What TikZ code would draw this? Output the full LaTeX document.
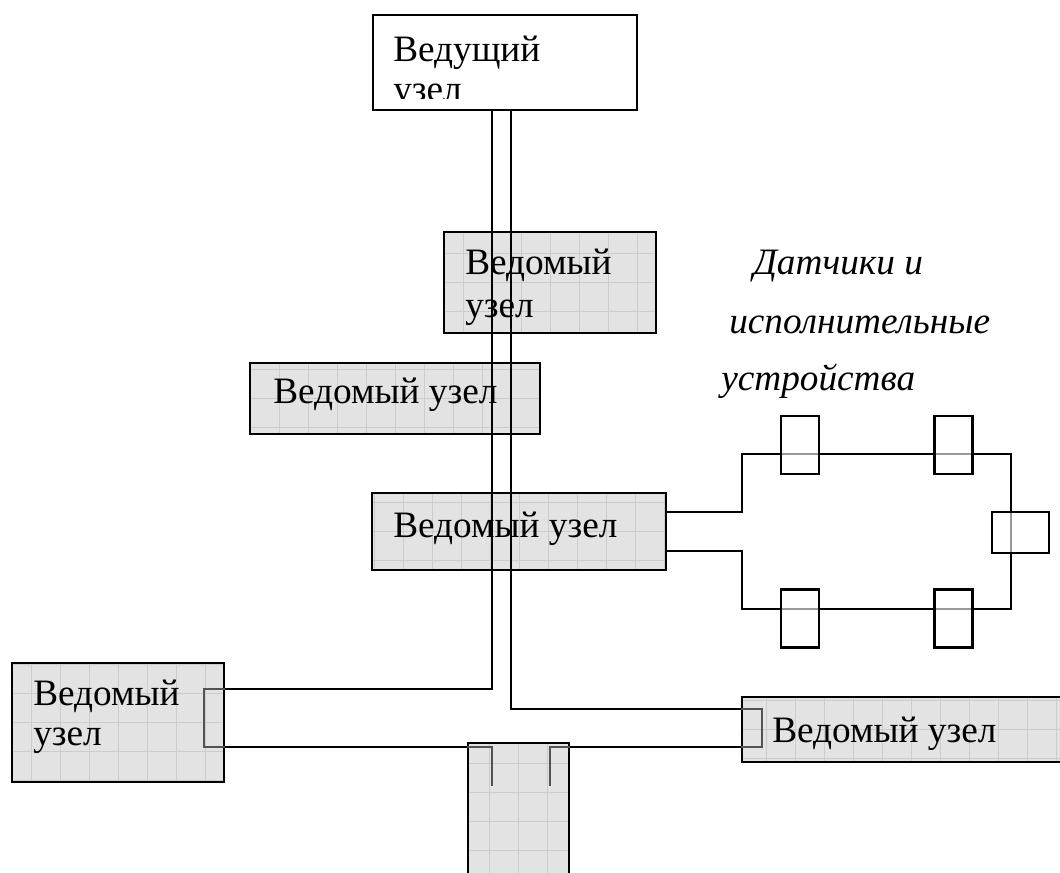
\documentclass[tikz,border=0pt]{standalone}
\usepackage{fontspec}
\setmainfont{Liberation Serif}
\usetikzlibrary{positioning}

\tikzset{
  box/.style={draw, line width=1.6pt, inner sep=0pt},
  slave/.style={box, fill=gray!22, path picture={
      \draw[gray!40, line width=0.5pt, step=0.725cm]
        (path picture bounding box.south west) grid (path picture bounding box.north east);}},
  sensor/.style={box, fill=white, fill opacity=0.6, minimum width=0.95cm, minimum height=1.45cm},
  lbl/.style={inner sep=0pt, anchor=base west, font=\fontsize{26.5}{30}\selectfont},
  ilbl/.style={lbl, font=\fontsize{26.5}{30}\selectfont\itshape},
  bus/.style={line width=1.4pt},
  stub/.style={line width=1.4pt, gray!65!black}
}

\begin{document}
\begin{tikzpicture}[x=0.025cm, y=-0.025cm]
   \clip (0,0) rectangle (1060,873);

   % master node
   \node[box, minimum width=6.6cm, minimum height=2.375cm] (m) at (505,62.5) {};
   \begin{scope}
     \clip (373,15) rectangle (637,99);
     \node[lbl] (mt1) at (393,62) {Ведущий};
     \node[lbl] (mt2) at (393,102) {узел};
   \end{scope}

   % slave nodes
   \node[slave, minimum width=5.3cm, minimum height=2.525cm] (s1) at (550,282.5) {};
   \node[slave, minimum width=7.25cm, minimum height=1.775cm] (s2) at (395,398.5) {};
   \node[slave, minimum width=7.35cm, minimum height=1.925cm] (s3) at (519,531.5) {};
   \node[slave, minimum width=5.3cm, minimum height=2.975cm] (s4) at (118,722.5) {};
   \node[slave, minimum width=8.45cm, minimum height=1.625cm] (s5) at (911,729.5) {};
   \node[slave, minimum width=2.525cm, minimum height=3.925cm] (s6) at (518.5,821.5) {};

   % two-wire bus
   \coordinate (b1) at (492,689);
   \coordinate (b2) at (511,709);
   \draw[bus] (m.south -| b1) -- (b1) -- (s4.east |- b1);
   \draw[bus] (m.south -| b2) -- (b2) -- (s5.west |- b2);
   \coordinate (b3) at (0,747);
   \draw[bus] (s4.east |- b3) -- (s6.west |- b3);
   \draw[bus] (s6.east |- b3) -- (s5.west |- b3);

   % wire ends inside the nodes
   \draw[stub] (s4.east |- b1) -- (204,689) -- (204,747) -- (s4.east |- b3);
   \draw[stub] (s5.west |- b2) -- (762,709) -- (762,747) -- (s5.west |- b3);
   \draw[stub] (s6.west |- b3) -- (492,747) -- (492,786);
   \draw[stub] (s6.east |- b3) -- (550,747) -- (550,786);

   % sensor loop
   \coordinate (l1) at (742,512);
   \coordinate (l2) at (742,551);
   \draw[bus] (s3.east |- l1) -- (l1) -- (742,454) -- (1011,454) -- (1011,609)
     -- (742,609) -- (l2) -- (s3.east |- l2);
   \node[sensor] (t1) at (800,445) {};
   \node[sensor] (t2) at (953.5,445) {};
   \node[sensor, minimum width=1.425cm, minimum height=1.025cm] (t3) at (1020.5,532.5) {};
   \node[sensor] (t4) at (800,618.5) {};
   \node[sensor] (t5) at (953.5,618.5) {};

   % labels
   \node[lbl] (s1a) at (465,275) {Ведомый};
   \node[lbl] (s1b) at (465,317) {узел};
   \node[lbl] (s2a) at (273,403) {Ведомый узел};
   \node[lbl] (s3a) at (393,537) {Ведомый узел};
   \node[lbl] (s4a) at (33,705) {Ведомый};
   \node[lbl] (s4b) at (33,745) {узел};
   \node[lbl] (s5a) at (772,742) {Ведомый узел};

   \node[ilbl] (d1) at (753,275) {Датчики и};
   \node[ilbl] (d2) at (729,333) {исполнительные};
   \node[ilbl] (d3) at (721,390) {устройства};
\end{tikzpicture}
\end{document}
